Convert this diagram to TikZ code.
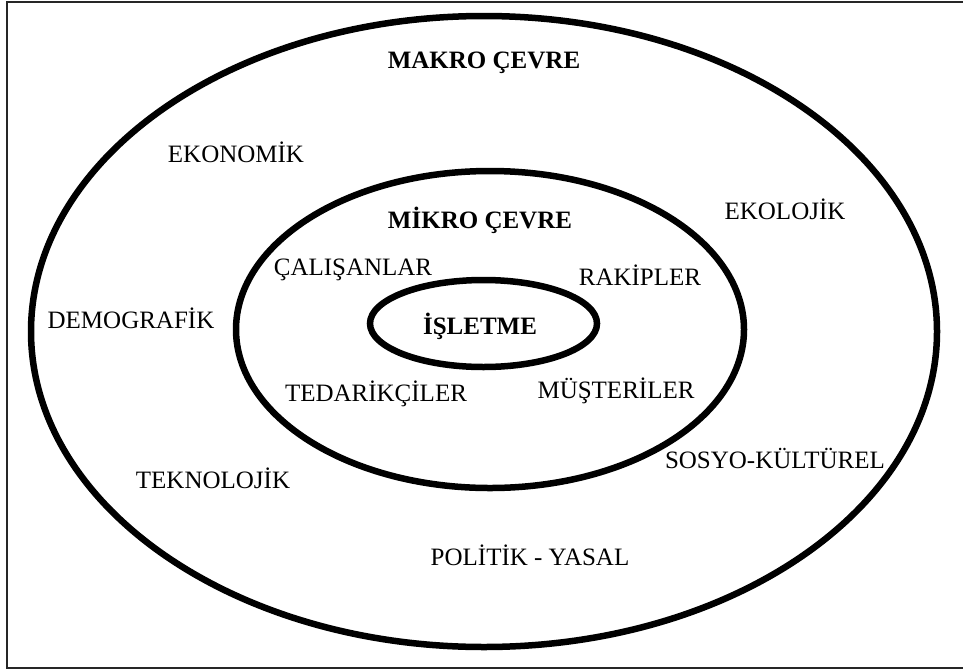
\documentclass[tikz,border=0pt]{standalone}
\usepackage{fontspec}
\setmainfont{Liberation Serif}
\usepackage{tikz}
\tikzset{lbl/.style={inner sep=0pt, font=\fontsize{25}{29}\selectfont},
         baslik/.style={lbl, font=\fontsize{25}{29}\selectfont\bfseries},
         halka/.style={line width=6.5pt}}

\begin{document}
\begin{tikzpicture}[x=1pt, y=-1pt]
 \useasboundingbox (0,0) rectangle (963,670);
 \draw[line width=1.6pt, black!85] (963,2) -- (7,2) -- (7,668) -- (963,668);

 \draw[halka] (484,331.5) ellipse [x radius=453, y radius=315.5];
 \draw[halka] (490,329.5) ellipse [x radius=254, y radius=158.5];
 \draw[halka] (483.5,323.5) ellipse [x radius=113.5, y radius=43.5];

 \node[baslik] (makro)   at (484, 63)  {MAKRO ÇEVRE};
 \node[baslik] (mikro)   at (480, 220) {MİKRO ÇEVRE};
 \node[baslik] (isletme) at (480, 326) {İŞLETME};

 \node[lbl] (ekonomik)  at (236, 152) {EKONOMİK};
 \node[lbl] (ekolojik)  at (785, 209) {EKOLOJİK};
 \node[lbl] (demog)     at (131, 318) {DEMOGRAFİK};
 \node[lbl] (sosyo)     at (775, 458) {SOSYO-KÜLTÜREL};
 \node[lbl] (teknoloji) at (213, 478) {TEKNOLOJİK};
 \node[lbl] (politik)   at (530, 555) {POLİTİK - YASAL};

 \node[lbl] (calisan)   at (353, 270) {ÇALIŞANLAR};
 \node[lbl] (rakip)     at (640, 275) {RAKİPLER};
 \node[lbl] (tedarik)   at (376, 394) {TEDARİKÇİLER};
 \node[lbl] (musteri)   at (616, 391) {MÜŞTERİLER};
\end{tikzpicture}
\end{document}
